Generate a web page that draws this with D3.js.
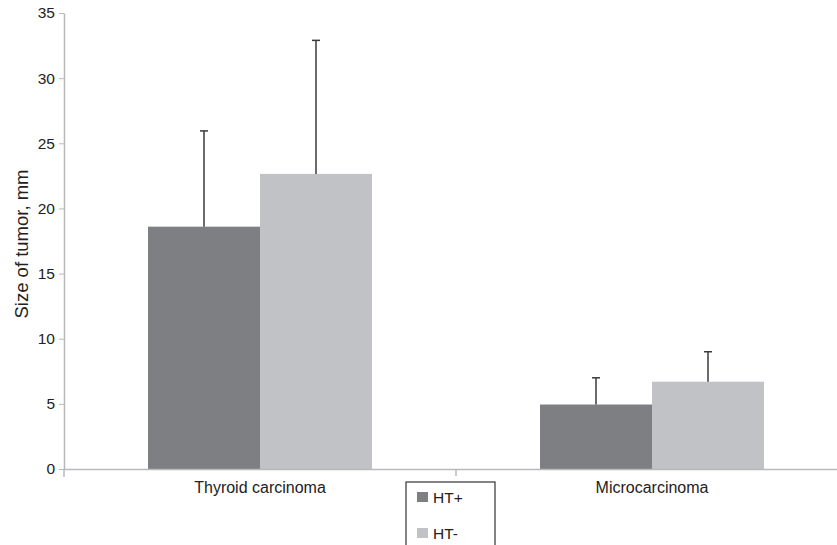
<!DOCTYPE html>
<html>
<head>
<meta charset="utf-8">
<script src="https://cdn.jsdelivr.net/npm/d3@7"></script>
<style>
  body { margin: 0; background: #fff; }
  svg { display: block; font-family: "Liberation Sans", Arial, sans-serif; }
</style>
</head>
<body>
<div id="chart"></div>
<script>
// data
var categories = ["Thyroid carcinoma", "Microcarcinoma"];
var groups = ["HT+", "HT-"];
var meanHTpos = [18.6, 4.95];
var meanHTneg = [22.65, 6.7];
var sdHTpos = [7.35, 2.05];
var sdHTneg = [10.25, 2.3];
var yTicks = [0, 5, 10, 15, 20, 25, 30, 35];

var width = 837;
var height = 545;

var svg = d3.select("#chart")
    .append("svg")
    .attr("width", width)
    .attr("height", height);

var color = d3.scaleOrdinal()
    .domain(groups)
    .range(["#7e7f83", "#c1c2c6"]);

var x = d3.scaleBand()
    .domain(categories)
    .range([64, 848])
    .padding(0);

var xSub = d3.scaleBand()
    .domain(groups)
    .range([0, 224]);

var barOffset = (x.bandwidth() - 224) / 2;

var y = d3.scaleLinear()
    .domain([0, 35])
    .range([469, 13]);

// y axis
var yAxis = svg.append("g")
    .attr("transform", "translate(64,0)")
    .call(d3.axisLeft(y).tickValues(yTicks).tickSize(5).tickPadding(4).tickSizeOuter(0));
yAxis.select(".domain").attr("stroke", "#b9b9bd").attr("stroke-width", 1.5);
yAxis.selectAll(".tick line").attr("stroke", "#b9b9bd");
yAxis.selectAll(".tick text").attr("font-size", 15.5).attr("fill", "#222");

// small extension of y axis below zero
svg.append("line")
    .attr("x1", 64).attr("x2", 64)
    .attr("y1", y(0)).attr("y2", y(0) + 8)
    .attr("stroke", "#b9b9bd").attr("stroke-width", 1.5);

// bars
var rows = categories.map(function (c, i) {
    return [
        { cat: c, key: "HT+", value: meanHTpos[i], sd: sdHTpos[i] },
        { cat: c, key: "HT-", value: meanHTneg[i], sd: sdHTneg[i] }
    ];
});

var catG = svg.append("g")
    .selectAll("g")
    .data(rows)
    .join("g")
    .attr("transform", function (d) { return "translate(" + (x(d[0].cat) + barOffset) + ",0)"; });

catG.selectAll("rect")
    .data(function (d) { return d; })
    .join("rect")
    .attr("x", function (d) { return xSub(d.key); })
    .attr("y", function (d) { return y(d.value); })
    .attr("width", xSub.bandwidth())
    .attr("height", function (d) { return y(0) - y(d.value); })
    .attr("fill", function (d) { return color(d.key); });

// error bars (upper only)
catG.selectAll(".err")
    .data(function (d) { return d; })
    .join("line")
    .attr("class", "err")
    .attr("x1", function (d) { return xSub(d.key) + xSub.bandwidth() / 2; })
    .attr("x2", function (d) { return xSub(d.key) + xSub.bandwidth() / 2; })
    .attr("y1", function (d) { return y(d.value); })
    .attr("y2", function (d) { return y(d.value + d.sd); })
    .attr("stroke", "#3a3a3c")
    .attr("stroke-width", 1.5);

catG.selectAll(".cap")
    .data(function (d) { return d; })
    .join("line")
    .attr("class", "cap")
    .attr("x1", function (d) { return xSub(d.key) + xSub.bandwidth() / 2 - 4; })
    .attr("x2", function (d) { return xSub(d.key) + xSub.bandwidth() / 2 + 4; })
    .attr("y1", function (d) { return y(d.value + d.sd); })
    .attr("y2", function (d) { return y(d.value + d.sd); })
    .attr("stroke", "#3a3a3c")
    .attr("stroke-width", 1.5);

// x axis
var xAxis = svg.append("g")
    .attr("transform", "translate(0," + y(0) + ")")
    .call(d3.axisBottom(x).tickSize(0).tickPadding(13).tickSizeOuter(0));
xAxis.select(".domain").attr("stroke", "#b9b9bd").attr("stroke-width", 1.5);
xAxis.selectAll(".tick text").attr("font-size", 16).attr("fill", "#222");

// tick between categories
svg.append("line")
    .attr("x1", x(categories[1])).attr("x2", x(categories[1]))
    .attr("y1", y(0)).attr("y2", y(0) + 7)
    .attr("stroke", "#b9b9bd").attr("stroke-width", 1.5);

// y label
svg.append("text")
    .attr("transform", "translate(28," + 244 + ") rotate(-90)")
    .attr("text-anchor", "middle")
    .attr("font-size", 18.5)
    .attr("fill", "#222")
    .text("Size of tumor, mm");

// legend
var legend = svg.append("g")
    .attr("transform", "translate(406,482)");

legend.append("rect")
    .attr("x", 0).attr("y", 0)
    .attr("width", 89).attr("height", 80)
    .attr("fill", "#fff")
    .attr("stroke", "#333")
    .attr("stroke-width", 1.2);

var items = legend.selectAll(".item")
    .data(groups)
    .join("g")
    .attr("class", "item")
    .attr("transform", function (d, i) { return "translate(11," + (10 + i * 36) + ")"; });

items.append("rect")
    .attr("width", 11).attr("height", 10)
    .attr("fill", function (d) { return color(d); });

items.append("text")
    .attr("x", 16).attr("y", 11)
    .attr("font-size", 15.5)
    .attr("fill", "#222")
    .text(function (d) { return d; });
</script>
</body>
</html>
